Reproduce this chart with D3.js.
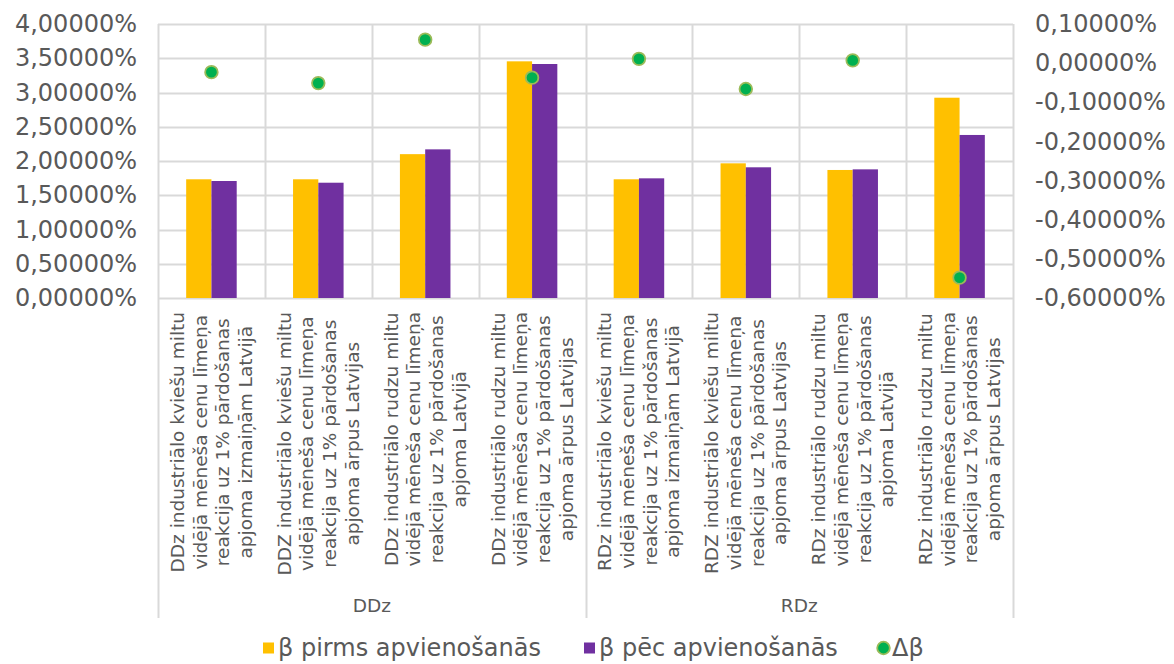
<!DOCTYPE html>
<html>
<head>
<meta charset="utf-8">
<script src="https://cdn.jsdelivr.net/npm/d3@7"></script>
<style>
  html, body { margin: 0; padding: 0; background: #fff; }
  svg { display: block; font-family: "DejaVu Sans", Verdana, sans-serif; }
</style>
</head>
<body>
<svg id="chart" width="1174" height="664"></svg>
<script>
// ---------------- data ----------------
const categories = [
  ["DDz industriālo kviešu miltu", "vidējā mēneša cenu līmeņa", "reakcija uz 1% pārdošanas", "apjoma izmaiņām Latvijā"],
  ["DDZ industriālo kviešu miltu", "vidējā mēneša cenu līmeņa", "reakcija uz 1% pārdošanas", "apjoma ārpus Latvijas"],
  ["DDz industriālo rudzu miltu", "vidējā mēneša cenu līmeņa", "reakcija uz 1% pārdošanas", "apjoma Latvijā"],
  ["DDz industriālo rudzu miltu", "vidējā mēneša cenu līmeņa", "reakcija uz 1% pārdošanas", "apjoma ārpus Latvijas"],
  ["RDz industriālo kviešu miltu", "vidējā mēneša cenu līmeņa", "reakcija uz 1% pārdošanas", "apjoma izmaiņām Latvijā"],
  ["RDZ industriālo kviešu miltu", "vidējā mēneša cenu līmeņa", "reakcija uz 1% pārdošanas", "apjoma ārpus Latvijas"],
  ["RDz industriālo rudzu miltu", "vidējā mēneša cenu līmeņa", "reakcija uz 1% pārdošanas", "apjoma Latvijā"],
  ["RDz industriālo rudzu miltu", "vidējā mēneša cenu līmeņa", "reakcija uz 1% pārdošanas", "apjoma ārpus Latvijas"]
];
const groups = ["DDz", "RDz"];
const groupOfCategory = ["DDz", "DDz", "DDz", "DDz", "RDz", "RDz", "RDz", "RDz"];
const seriesNames = ["β pirms apvienošanās", "β pēc apvienošanās", "Δβ"];
const betaBefore = [1.733, 1.733, 2.100, 3.455, 1.733, 1.966, 1.869, 2.924];
const betaAfter  = [1.708, 1.683, 2.170, 3.416, 1.747, 1.908, 1.878, 2.380];
const deltaBeta  = [-0.023, -0.051, 0.060, -0.037, 0.011, -0.066, 0.007, -0.548];
const leftTicks  = [0, 0.5, 1, 1.5, 2, 2.5, 3, 3.5, 4];
const rightTicks = [-0.6, -0.5, -0.4, -0.3, -0.2, -0.1, 0, 0.1];

// ---------------- layout ----------------
const colors = { before: "#FFC000", after: "#7030A0", delta: "#00B050", deltaStroke: "#9BBB59", grid: "#D9D9D9", text: "#595959" };
const plot = { left: 158, right: 1013, top: 24, bottom: 298 };
const svg = d3.select("#chart");

const locale = d3.formatLocale({ decimal: ",", thousands: " ", grouping: [3], currency: ["", ""], minus: "-" });
const fmt = v => locale.format(".5f")(v) + "%";

const idx = d3.range(categories.length);
const x0 = d3.scaleBand().domain(idx).range([plot.left, plot.right]).paddingInner(0).paddingOuter(0);
const x1 = d3.scaleBand().domain(["before", "after"]).range([0, x0.bandwidth()]).paddingInner(0).paddingOuter(1.115);
const yL = d3.scaleLinear().domain([0, 4]).range([plot.bottom, plot.top]);
const yR = d3.scaleLinear().domain([-0.6, 0.1]).range([plot.bottom, plot.top]);

// gridlines (horizontal)
svg.append("g").selectAll("line").data(leftTicks).join("line")
  .attr("x1", plot.left).attr("x2", plot.right)
  .attr("y1", d => Math.round(yL(d)) + 0.5).attr("y2", d => Math.round(yL(d)) + 0.5)
  .attr("stroke", colors.grid).attr("stroke-width", 2);

// vertical category lines
const bounds = d3.range(categories.length + 1).map(i => i < categories.length ? x0(i) : plot.right);
svg.append("g").selectAll("line").data(bounds).join("line")
  .attr("x1", d => Math.round(d) + 0.5).attr("x2", d => Math.round(d) + 0.5)
  .attr("y1", plot.top)
  .attr("y2", (d, i) => (i === 0 || i === 4 || i === categories.length) ? 618 : plot.bottom)
  .attr("stroke", colors.grid).attr("stroke-width", 2);

// bars
const barG = svg.append("g");
barG.selectAll("rect.before").data(betaBefore).join("rect").attr("class", "before")
  .attr("x", (d, i) => x0(i) + x1("before")).attr("width", x1.bandwidth())
  .attr("y", d => yL(d)).attr("height", d => yL(0) - yL(d)).attr("fill", colors.before);
barG.selectAll("rect.after").data(betaAfter).join("rect").attr("class", "after")
  .attr("x", (d, i) => x0(i) + x1("after")).attr("width", x1.bandwidth())
  .attr("y", d => yL(d)).attr("height", d => yL(0) - yL(d)).attr("fill", colors.after);

// dots
svg.append("g").selectAll("circle").data(deltaBeta).join("circle")
  .attr("cx", (d, i) => x0(i) + x0.bandwidth() / 2)
  .attr("cy", d => yR(d)).attr("r", 6.3)
  .attr("fill", colors.delta).attr("stroke", colors.deltaStroke).attr("stroke-width", 1.8);

// axes
const axL = svg.append("g").attr("transform", `translate(${plot.left - 21},0)`)
  .call(d3.axisLeft(yL).tickValues(leftTicks).tickSize(0).tickPadding(0).tickFormat(fmt));
const axR = svg.append("g").attr("transform", `translate(${plot.right + 22},0)`)
  .call(d3.axisRight(yR).tickValues(rightTicks).tickSize(0).tickPadding(0).tickFormat(fmt));
[axL, axR].forEach(a => {
  a.select(".domain").remove();
  a.selectAll("text").attr("fill", colors.text).style("font-size", "24px")
    .style("font-family", "'DejaVu Sans', Verdana, sans-serif");
});
axR.selectAll("text").attr("text-anchor", "start");

// category labels (rotated)
const lineH = 22.7;
const catFont = 18.5;
const measure = svg.append("text").style("font-size", catFont + "px").attr("visibility", "hidden");
const catG = svg.append("g");
categories.forEach((lines, i) => {
  const widths = lines.map(l => { measure.text(l); return measure.node().getComputedTextLength(); });
  const maxW = d3.max(widths);
  const cx = x0(i) + x0.bandwidth() / 2;
  const cy = 312 + maxW / 2;
  const g = catG.append("g").attr("transform", `translate(${cx},${cy}) rotate(-90)`);
  g.selectAll("text").data(lines).join("text")
    .attr("x", 0).attr("y", (d, j) => (j - 1.5) * lineH)
    .attr("dy", "0.35em")
    .attr("text-anchor", "middle").attr("fill", colors.text)
    .style("font-size", catFont + "px").text(d => d);
});
measure.remove();

// group labels
const groupCenters = groups.map(g => {
  const ids = idx.filter(i => groupOfCategory[i] === g);
  return (x0(ids[0]) + x0(ids[ids.length - 1]) + x0.bandwidth()) / 2;
});
svg.append("g").selectAll("text").data(groups).join("text")
  .attr("x", (d, i) => groupCenters[i]).attr("y", 612)
  .attr("text-anchor", "middle").attr("fill", colors.text)
  .style("font-size", "18.5px").text(d => d);

// legend
const legend = svg.append("g").attr("transform", "translate(0,648)");
const legItems = [
  { name: seriesNames[0], type: "rect", color: colors.before, x: 263 },
  { name: seriesNames[1], type: "rect", color: colors.after, x: 584 },
  { name: seriesNames[2], type: "circle", color: colors.delta, x: 877 }
];
legItems.forEach(it => {
  if (it.type === "rect") {
    legend.append("rect").attr("x", it.x).attr("y", -5.5).attr("width", 11).attr("height", 11).attr("fill", it.color);
  } else {
    legend.append("circle").attr("cx", it.x + 6.5).attr("cy", 0).attr("r", 6.3)
      .attr("fill", it.color).attr("stroke", colors.deltaStroke).attr("stroke-width", 1.8);
  }
  legend.append("text").attr("x", it.x + 15).attr("y", 0).attr("dy", "0.35em")
    .attr("fill", colors.text).style("font-size", "24px").text(it.name);
});
</script>
</body>
</html>
